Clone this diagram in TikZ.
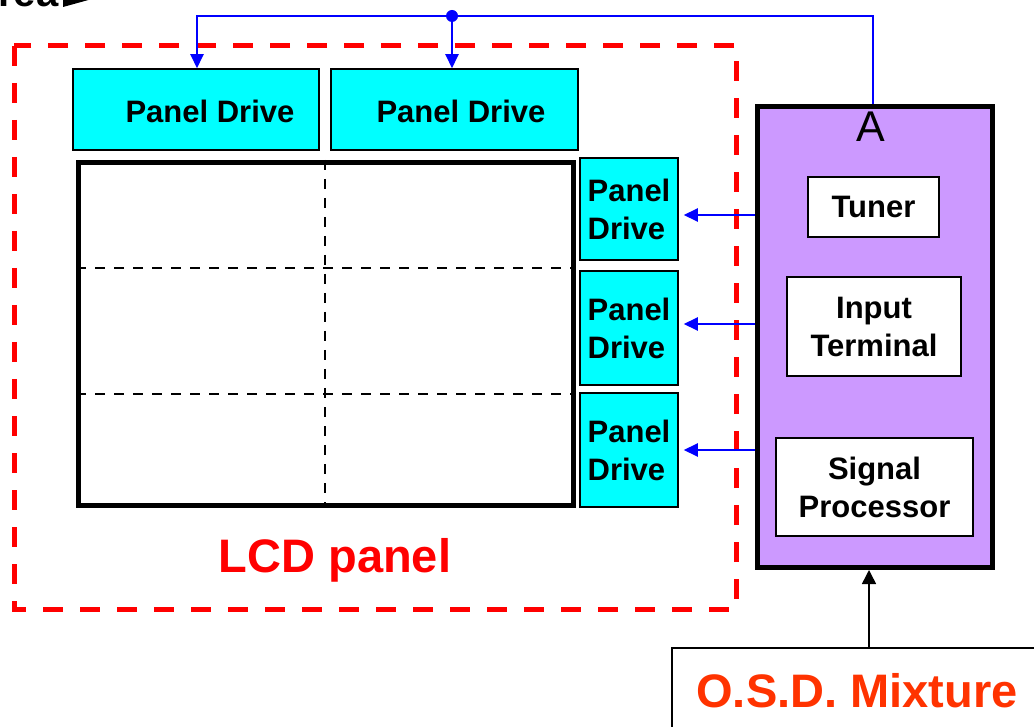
\documentclass[tikz,border=0pt]{standalone}
\usepackage{fontspec}
\setmainfont{Liberation Sans}
\usetikzlibrary{arrows.meta,calc}
\definecolor{cyanbox}{HTML}{00FFFF}
\definecolor{purplebox}{HTML}{CC99FF}
\definecolor{osdred}{HTML}{FF3300}
\definecolor{lcdred}{HTML}{FF0000}
\definecolor{linkblue}{HTML}{0000FF}
\tikzset{
  drivebox/.style={draw=black, line width=1.5pt, fill=cyanbox, inner sep=0pt},
  whitebox/.style={draw=black, line width=2pt, fill=white, inner sep=0pt},
  lbl/.style={font=\fontsize{31}{38}\selectfont\bfseries, align=center},
  lbll/.style={font=\fontsize{31}{38}\selectfont\bfseries, align=left},
  gridline/.style={draw=black, line width=2.2pt, dash pattern=on 10pt off 9pt},
  link/.style={draw=linkblue, line width=2pt},
  linkarrow/.style={link, -{Triangle[length=14pt,width=13pt]}},
}
\begin{document}
\begin{tikzpicture}[x=1pt,y=-1pt]
\useasboundingbox (0,0) rectangle (1034,727);
\clip (0,0) rectangle (1034,727);

% cut-off heading at top left
\node[font=\fontsize{40}{40}\selectfont\bfseries, anchor=base west, inner sep=0pt] (cut) at (-2,7) {rea};
\fill[black] (63,7) -- (92,-1) -- (63,-9) -- cycle;

% LCD panel container
\draw[lcdred, line width=5pt, dash pattern=on 20pt off 17pt] (14,46) rectangle (736,609);

% top panel drives
\node[drivebox, minimum width=246pt, minimum height=81pt] (pd1) at (196,109.5) {};
\node[lbl, anchor=base] (pd1t) at (210,123) {Panel Drive};
\node[drivebox, minimum width=247pt, minimum height=81pt] (pd2) at (454.5,109.5) {};
\node[lbl, anchor=base] (pd2t) at (461,123) {Panel Drive};

% LCD screen grid
\node[draw=black, line width=5pt, minimum width=495pt, minimum height=343pt, inner sep=0pt] (lcd) at (326,334) {};
\coordinate (gx) at (325,0);
\coordinate (gy1) at (0,268);
\coordinate (gy2) at (0,394);
\draw[gridline] (lcd.north -| gx) -- (lcd.south -| gx);
\draw[gridline] (lcd.west |- gy1) -- (lcd.east |- gy1);
\draw[gridline] (lcd.west |- gy2) -- (lcd.east |- gy2);

% right panel drives
\node[drivebox, lbll, minimum width=98pt, minimum height=102pt] (pdr1) at (629,209) {Panel\\Drive};
\node[drivebox, lbll, minimum width=98pt, minimum height=114pt] (pdr2) at (629,328) {Panel\\Drive};
\node[drivebox, lbll, minimum width=98pt, minimum height=114pt] (pdr3) at (629,450) {Panel\\Drive};

\node[font=\fontsize{47}{47}\selectfont\bfseries, text=lcdred, anchor=base] (lcdlbl) at (335,572) {LCD panel};

% block A
\node[draw=black, line width=5pt, fill=purplebox, minimum width=235pt, minimum height=461pt, inner sep=0pt] (abox) at (875,337) {};
\node[font=\fontsize{43}{43}\selectfont, anchor=base] (alabel) at (871,142) {A};
\node[whitebox, lbl, minimum width=131pt, minimum height=60pt] (tuner) at (873.5,207) {Tuner};
\node[whitebox, lbl, minimum width=174pt, minimum height=99pt] (input) at (874,326.5) {Input\\Terminal};
\node[whitebox, lbl, minimum width=197pt, minimum height=98pt] (signal) at (874.5,487) {Signal\\Processor};

% OSD mixture
\node[draw=black, line width=1.5pt, fill=white, minimum width=370pt, minimum height=86pt, inner sep=0pt,
      font=\fontsize{47}{47}\selectfont\bfseries, text=osdred] (osd) at (857,691) {O.S.D. Mixture};

% blue connectors
\coordinate (jn) at (452,16);
\coordinate (tl) at (197,16);
\coordinate (tr) at (873,16);
\draw[link] (abox.north -| tr) -- (tr) -- (jn);
\draw[linkarrow] (jn) -- (tl) -- (tl |- pd1.north);
\draw[linkarrow] (jn) -- (jn |- pd2.north);
\fill[linkblue] (jn) circle (6pt);

\coordinate (ya) at (0,215);
\coordinate (yb) at (0,324);
\coordinate (yc) at (0,450);
\draw[linkarrow, shorten >=5pt] (abox.west |- ya) -- (pdr1.east |- ya);
\draw[linkarrow, shorten >=5pt] (abox.west |- yb) -- (pdr2.east |- yb);
\draw[linkarrow, shorten >=5pt] (abox.west |- yc) -- (pdr3.east |- yc);

% OSD to block A
\coordinate (ax) at (869,0);
\draw[draw=black, line width=1.5pt, -{Triangle[length=14pt,width=14pt]}] (osd.north -| ax) -- (abox.south -| ax);
\end{tikzpicture}
\end{document}
